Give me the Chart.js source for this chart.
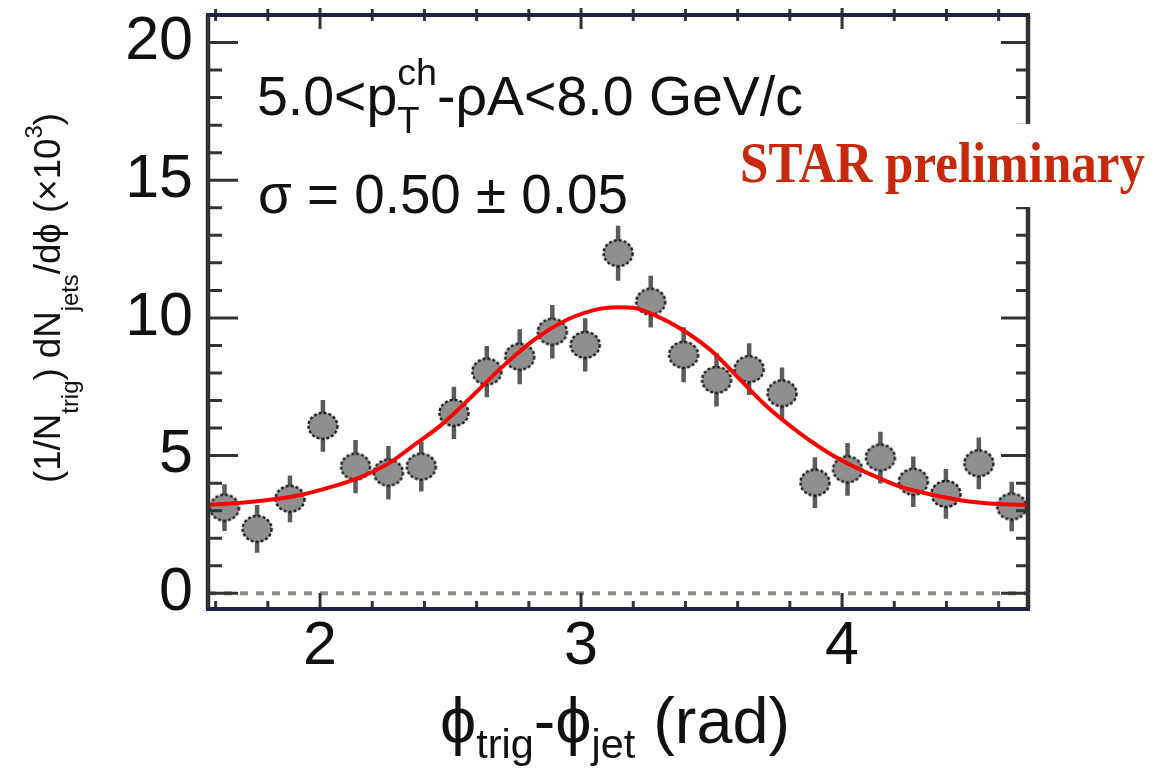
<!DOCTYPE html>
<html>
<head>
<meta charset="utf-8">
<script src="https://cdn.jsdelivr.net/npm/chart.js@4.4.0/dist/chart.umd.min.js"></script>
<style>
    html, body { margin: 0; padding: 0; background: #fff; }
    #wrap { width: 1174px; height: 777px; }
</style>
</head>
<body>
<div id="wrap"><canvas id="chart" width="1174" height="777"></canvas></div>
<script>
// Azimuthal correlation, STAR preliminary

// bin centres (rad) and per-trigger yields (x10^3)
const phiBins = [1.634, 1.759, 1.885, 2.011, 2.136, 2.262, 2.388, 2.513, 2.639, 2.765,
                 2.890, 3.016, 3.142, 3.267, 3.393, 3.519, 3.644, 3.770, 3.896, 4.021,
                 4.147, 4.273, 4.398, 4.524, 4.650];
const yields = [3.11, 2.34, 3.43, 6.08, 4.60, 4.38, 4.60, 6.55, 8.05, 8.59,
                9.50, 9.02, 12.35, 10.59, 8.66, 7.75, 8.14, 7.26, 4.02, 4.50,
                4.93, 4.05, 3.61, 4.72, 3.15];
const yieldErr = [0.85, 0.87, 0.85, 0.94, 0.97, 0.97, 0.90, 0.95, 0.93, 1.00,
                  0.97, 0.97, 1.00, 0.94, 1.00, 0.97, 0.94, 0.94, 0.92, 0.96,
                  0.94, 0.92, 0.90, 0.94, 0.90];

// gaussian fit curve
const fitPhi = [1.571, 1.75, 1.92, 2.05, 2.15, 2.26, 2.37, 2.46, 2.56, 2.69,
                2.82, 2.95, 3.07, 3.14, 3.20, 3.28, 3.39, 3.51, 3.59, 3.71,
                3.84, 3.97, 4.10, 4.22, 4.35, 4.48, 4.60, 4.712];
const fitYield = [3.21, 3.33, 3.56, 3.88, 4.20, 4.70, 5.45, 6.08, 6.95, 8.15,
                  9.20, 9.95, 10.33, 10.39, 10.37, 10.11, 9.56, 8.72, 7.95, 6.80,
                  5.80, 4.98, 4.36, 3.88, 3.57, 3.34, 3.24, 3.21];

const xTickValues = [2, 3, 4];
const yTickValues = [0, 5, 10, 15, 20];

const SANS = '"Liberation Sans", Arial, Helvetica, "DejaVu Sans", sans-serif';
const INK = '#111';
const PHI = '\u03d5';

// grey marker with dashed outline, like the ROOT plot
function makeMarker() {
    const c = document.createElement('canvas');
    c.width = 34; c.height = 32;
    const g = c.getContext('2d');
    g.beginPath();
    g.ellipse(17, 16, 14.5, 13, 0, 0, Math.PI * 2);
    g.fillStyle = '#8f8f8f';
    g.fill();
    g.setLineDash([3, 2]);
    g.lineWidth = 2.4;
    g.strokeStyle = '#1c1c1c';
    g.stroke();
    return c;
}

// text with sub/superscripts; parts: {t, k, dy} or [stacked parts]
function richText(ctx, parts, size, family, draw, x0, y0) {
    let x = x0;
    for (const p of parts) {
        const items = Array.isArray(p) ? p : [p];
        let adv = 0;
        for (const it of items) {
            ctx.font = (size * it.k).toFixed(2) + 'px ' + family;
            const w = ctx.measureText(it.t).width;
            if (draw) ctx.fillText(it.t, x, y0 + size * it.dy);
            adv = Math.max(adv, w);
        }
        x += adv;
    }
    return x - x0;
}

function fitSize(ctx, parts, guess, family, width) {
    return guess * width / richText(ctx, parts, guess, family, false, 0, 0);
}

const yTitle = [
    { t: '(1/N', k: 1, dy: 0 }, { t: 'trig', k: 0.65, dy: 0.49 },
    { t: ') dN', k: 1, dy: 0 }, { t: 'jets', k: 0.65, dy: 0.49 },
    { t: '/d' + PHI + ' (\u00d710', k: 1, dy: 0 }, { t: '3', k: 0.65, dy: -0.49 },
    { t: ')', k: 1, dy: 0 }
];
const xTitle = [
    { t: PHI, k: 1, dy: 0 }, { t: 'trig', k: 0.64, dy: 0.23 },
    { t: '-' + PHI, k: 1, dy: 0 }, { t: 'jet', k: 0.64, dy: 0.23 },
    { t: ' (rad)', k: 1, dy: 0 }
];
const ptLabel = [
    { t: '5.0<p', k: 1, dy: 0 },
    [{ t: 'ch', k: 0.68, dy: -0.54 }, { t: 'T', k: 0.66, dy: 0.32 }],
    { t: '-\u03c1A<8.0 GeV/c', k: 1, dy: 0 }
];
const sigmaLabel = [{ t: '\u03c3 = 0.50 \u00b1 0.05', k: 1, dy: 0 }];

const rootFrame = {
    id: 'rootFrame',
    beforeDatasetsDraw(chart) {
        const { ctx, chartArea: a, scales: { x, y } } = chart;
        ctx.save();
        // dashed zero line
        const y0 = y.getPixelForValue(0);
        ctx.setLineDash([8, 8]);
        ctx.strokeStyle = '#8a8a8a';
        ctx.lineWidth = 4;
        ctx.beginPath();
        ctx.moveTo(a.left, y0);
        ctx.lineTo(a.right, y0);
        ctx.stroke();
        ctx.setLineDash([]);

        // error bars
        ctx.strokeStyle = '#5b5b5b';
        ctx.lineWidth = 4.5;
        ctx.beginPath();
        phiBins.forEach((phi, i) => {
            const px = x.getPixelForValue(phi);
            ctx.moveTo(px, y.getPixelForValue(yields[i] - yieldErr[i]));
            ctx.lineTo(px, y.getPixelForValue(yields[i] + yieldErr[i]));
        });
        ctx.stroke();
        ctx.restore();
    },
    afterDatasetsDraw(chart) {
        const { ctx, chartArea: a, scales: { x, y } } = chart;
        ctx.save();

        // ticks
        ctx.strokeStyle = '#333';
        ctx.lineWidth = 3;
        ctx.beginPath();
        for (let v = 0; v <= 20; v++) {
            const py = y.getPixelForValue(v);
            const major = yTickValues.includes(v);
            ctx.moveTo(a.left, py); ctx.lineTo(a.left + (major ? 30 : 14), py);
            ctx.moveTo(a.right, py); ctx.lineTo(a.right - (major ? 27 : 12), py);
        }
        for (let k = 8; k <= 23; k++) {
            const v = k / 5;
            const px = x.getPixelForValue(v);
            const major = k % 5 === 0;
            ctx.moveTo(px, a.bottom); ctx.lineTo(px, a.bottom - (major ? 16 : 8));
            ctx.moveTo(px, a.top - (major ? 7 : 6)); ctx.lineTo(px, a.top + (major ? 14 : 6));
        }
        ctx.stroke();

        // frame
        ctx.lineWidth = 4.5;
        ctx.strokeStyle = '#333';
        ctx.beginPath();
        ctx.moveTo(a.left, a.top); ctx.lineTo(a.left, a.bottom);
        ctx.moveTo(a.right, a.top); ctx.lineTo(a.right, a.bottom);
        ctx.stroke();
        ctx.lineWidth = 4;
        ctx.strokeStyle = '#222248';
        ctx.beginPath();
        ctx.moveTo(a.left - 2, a.top); ctx.lineTo(a.right + 2, a.top);
        ctx.moveTo(a.left - 2, a.bottom); ctx.lineTo(a.right + 2, a.bottom);
        ctx.stroke();

        // STAR label on a white patch
        ctx.fillStyle = '#fff';
        ctx.fillRect(725, 124, 449, 83);
        ctx.fillStyle = '#c8290c';
        ctx.font = 'bold 56px "Liberation Serif", "Times New Roman", serif';
        ctx.textBaseline = 'alphabetic';
        ctx.textAlign = 'left';
        const sw = ctx.measureText('STAR preliminary').width;
        ctx.save();
        ctx.translate(740, 182);
        ctx.scale(405 / sw, 1);
        ctx.fillText('STAR preliminary', 0, 0);
        ctx.restore();

        // annotations
        ctx.fillStyle = INK;
        let s = fitSize(ctx, ptLabel, 56, SANS, 546);
        richText(ctx, ptLabel, s, SANS, true, 257, 115);
        s = fitSize(ctx, sigmaLabel, 55, SANS, 370);
        richText(ctx, sigmaLabel, s, SANS, true, 258, 213);

        // axis titles
        s = fitSize(ctx, xTitle, 65, SANS, 350);
        richText(ctx, xTitle, s, SANS, true, 440, 743);

        ctx.save();
        ctx.translate(60, 483);
        ctx.rotate(-Math.PI / 2);
        s = fitSize(ctx, yTitle, 37, SANS, 370);
        richText(ctx, yTitle, s, SANS, true, 0, 0);
        ctx.restore();

        ctx.restore();
    }
};

const marker = makeMarker();

new Chart(document.getElementById('chart'), {
    type: 'scatter',
    data: {
        datasets: [
            {
                type: 'line',
                label: 'fit',
                data: fitPhi.map((v, i) => ({ x: v, y: fitYield[i] })),
                borderColor: '#ff0000',
                borderWidth: 4,
                pointRadius: 0,
                fill: false,
                cubicInterpolationMode: 'monotone',
                order: 0
            },
            {
                type: 'scatter',
                label: 'data',
                data: phiBins.map((v, i) => ({ x: v, y: yields[i] })),
                pointStyle: marker,
                pointRadius: 14,
                order: 1
            }
        ]
    },
    options: {
        responsive: false,
        devicePixelRatio: 1,
        animation: false,
        layout: { padding: { left: 0, right: 146, top: 15, bottom: 0 } },
        plugins: {
            legend: { display: false },
            tooltip: { enabled: false }
        },
        scales: {
            x: {
                type: 'linear',
                min: Math.PI / 2,
                max: 3 * Math.PI / 2,
                afterBuildTicks: scale => { scale.ticks = xTickValues.map(v => ({ value: v })); },
                afterFit: scale => {
                    scale.height = 168;
                    scale.paddingLeft = 0; scale.paddingRight = 0;
                },
                grid: { display: false, drawTicks: false },
                border: { display: false },
                ticks: {
                    color: INK,
                    padding: 8,
                    maxRotation: 0,
                    font: { family: SANS, size: 61, lineHeight: 1 },
                    callback: v => String(v)
                }
            },
            y: {
                type: 'linear',
                min: -0.57,
                max: 21.0,
                afterBuildTicks: scale => { scale.ticks = yTickValues.map(v => ({ value: v })); },
                afterFit: scale => {
                    scale.width = 208;
                    scale.paddingTop = 0; scale.paddingBottom = 0;
                },
                grid: { display: false, drawTicks: false },
                border: { display: false },
                ticks: {
                    color: INK,
                    padding: 15,
                    font: { family: SANS, size: 61, lineHeight: 1 },
                    callback: v => String(v)
                }
            }
        }
    },
    plugins: [rootFrame]
});
</script>
</body>
</html>
